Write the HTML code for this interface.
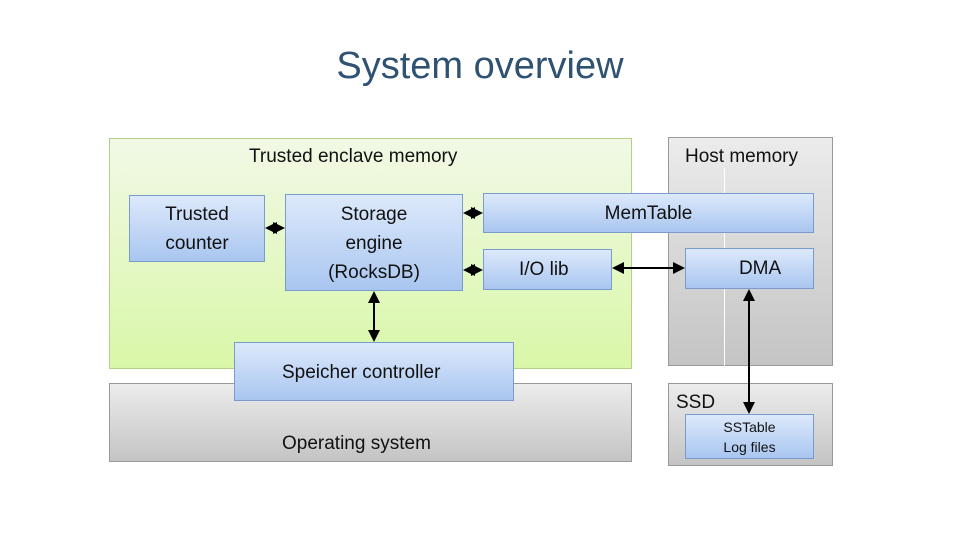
<!DOCTYPE html>
<html><head><meta charset="utf-8"><style>
body{margin:0;width:960px;height:540px;background:#fff;position:relative;overflow:hidden;font-family:"Liberation Sans",sans-serif;color:#111}
div{position:absolute;box-sizing:border-box}
.b{background:linear-gradient(#dde9fb,#a9c6f0);border:1px solid #7a9ccc;text-align:center;font-size:19px;line-height:29px}
.g{background:linear-gradient(#ececec,#c4c4c4);border:1px solid #999}
.t{font-size:19px;white-space:nowrap}
</style></head><body>
<div style="left:0;top:45px;width:960px;text-align:center;font-size:38px;color:#2f5273">System overview</div>
<div style="left:109px;top:138px;width:523px;height:231px;background:linear-gradient(#f1f9e6,#d9f7a8);border:1px solid #b6cf8a"></div>
<div class="g" style="left:668px;top:137px;width:165px;height:229px"></div>
<div style="left:724px;top:168px;width:1px;height:198px;background:#fff"></div>
<div class="g" style="left:109px;top:383px;width:523px;height:79px"></div>
<div class="g" style="left:668px;top:383px;width:165px;height:83px"></div>
<div class="t" style="left:249px;top:146px">Trusted enclave memory</div>
<div class="t" style="left:685px;top:146px">Host memory</div>
<div class="t" style="left:282px;top:433px">Operating system</div>
<div class="t" style="left:676px;top:392px">SSD</div>
<div class="b" style="left:129px;top:195px;width:136px;height:67px;padding-top:4px">Trusted<br>counter</div>
<div class="b" style="left:285px;top:194px;width:178px;height:97px;padding-top:5px">Storage<br>engine<br>(RocksDB)</div>
<div class="b" style="left:483px;top:193px;width:331px;height:40px;padding-top:5px">MemTable</div>
<div class="b" style="left:483px;top:249px;width:129px;height:41px;padding-top:5px;text-align:left;padding-left:35px">I/O lib</div>
<div class="b" style="left:685px;top:248px;width:129px;height:41px;padding-top:5px;padding-left:0px">&nbsp;&nbsp;&nbsp;&nbsp;DMA</div>
<div class="b" style="left:234px;top:342px;width:280px;height:59px;padding-top:15px;text-align:left;padding-left:47px">Speicher controller</div>
<div class="b" style="left:685px;top:414px;width:129px;height:45px;font-size:14px;line-height:20px;padding-top:2px">SSTable<br>Log files</div>
<svg style="position:absolute;left:0;top:0" width="960" height="540">
<defs><marker id="a" markerWidth="6" markerHeight="6" refX="5" refY="3" orient="auto-start-reverse"><path d="M0,0L6,3L0,6z" fill="#000"/></marker></defs>
<g stroke="#000" stroke-width="2" marker-start="url(#a)" marker-end="url(#a)">
<line x1="267" y1="228" x2="283" y2="228"/>
<line x1="465" y1="213" x2="481" y2="213"/>
<line x1="465" y1="270" x2="481" y2="270"/>
<line x1="614" y1="268" x2="683" y2="268"/>
<line x1="374" y1="293" x2="374" y2="340"/>
<line x1="749" y1="291" x2="749" y2="412"/>
</g></svg>
</body></html>
